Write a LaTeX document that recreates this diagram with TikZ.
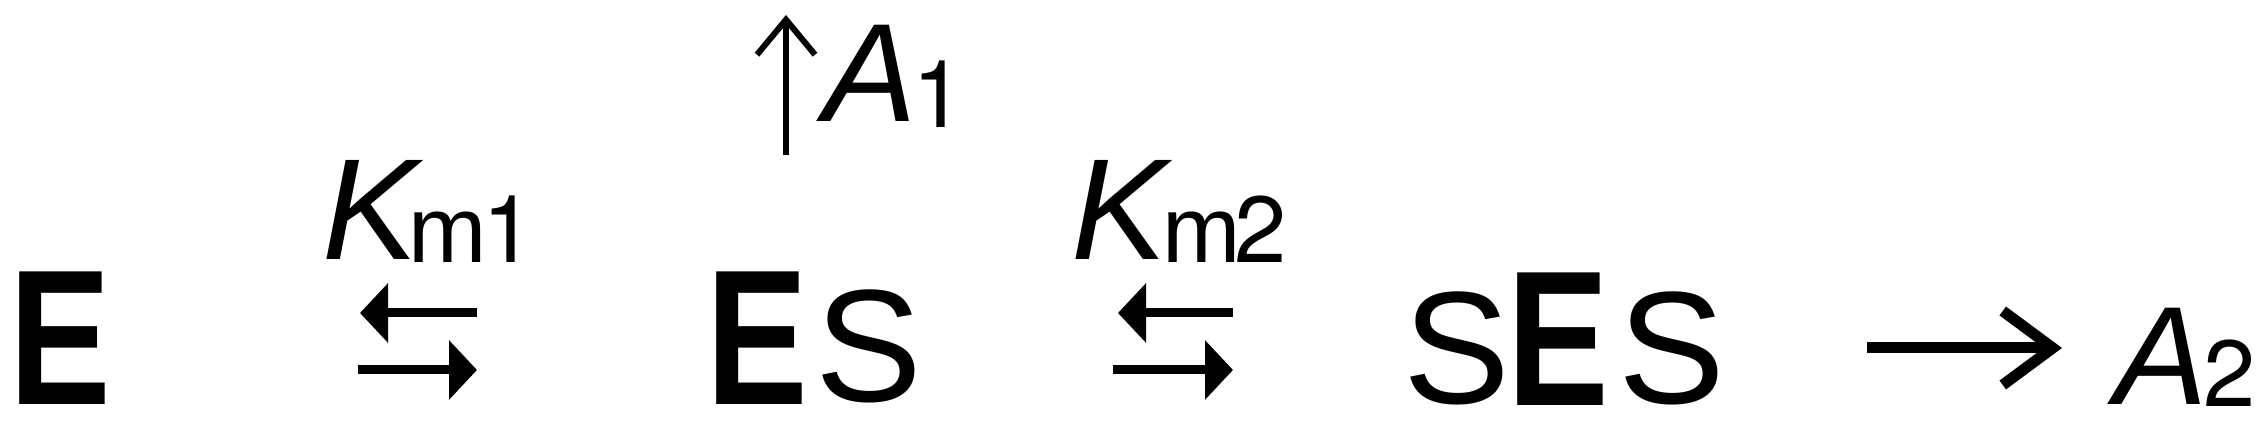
\documentclass[tikz,border=0pt]{standalone}
\usepackage{fontspec}
\usepackage{graphicx}
\setmainfont{Liberation Sans}
\newfontfamily\digfont{TeX Gyre Heros}
\usetikzlibrary{arrows.meta}
\newcommand\subsz{\fontsize{23.5}{24}\selectfont}
\begin{document}
\begin{tikzpicture}[x=0.25pt,y=-0.25pt,
  lbl/.style={anchor=base west,inner sep=0pt,outer sep=0pt},
  bigE/.style={lbl,font=\fontsize{48.2}{50}\selectfont\bfseries},
  sfont/.style={lbl,font=\fontsize{40}{40}\selectfont},
  kfont/.style={lbl,font=\fontsize{36}{36}\selectfont},
  afont/.style={lbl,font=\fontsize{35}{36}\selectfont},
  eqarrow/.style={line width=2.25pt,-{Triangle[length=7pt,width=14.5pt]}},
  uparrow/.style={line width=1.5pt,-{Straight Barb[length=8.75pt,width=14.5pt]}},
  rxarrow/.style={line width=2.75pt,-{Straight Barb[length=12.5pt,width=18.5pt]}}]
\useasboundingbox (0,0) rectangle (2263,423);
% species
\node[bigE] (e) at (9,405) {\scalebox{0.79}[1]{E}};
\node[bigE] (esE) at (706,405) {\scalebox{0.79}[1]{E}};
\node[sfont] (esS) at (815,402) {S};
\node[sfont] (sesS1) at (1403,404) {S};
\node[bigE] (sesE) at (1507,406) {\scalebox{0.79}[1]{E}};
\node[sfont] (sesS2) at (1618,404) {S};
% constants
\node[kfont] (km1) at (322,260) {\textit{K}\kern-3.75pt{\subsz\raisebox{-0.75pt}{m\kern-1pt{\digfont 1}}}};
\node[kfont] (km2) at (1071,260) {\textit{K}\kern-2.5pt{\subsz\raisebox{-0.75pt}{m\kern-1.5pt{\digfont 2}}}};
\node[afont] (a1) at (823,122) {\textit{A}\kern-1pt{\subsz\digfont\raisebox{-1.5pt}{1}}};
\node[afont] (a2) at (2114,405) {\textit{A}\kern-1pt{\subsz\digfont\raisebox{-0.5pt}{2}}};
% arrow end points
\coordinate (eqAa) at (477,313); \coordinate (eqAb) at (360,313);
\coordinate (eqAc) at (358,370); \coordinate (eqAd) at (477,370);
\coordinate (eqBa) at (1233,313); \coordinate (eqBb) at (1118,313);
\coordinate (eqBc) at (1113,370); \coordinate (eqBd) at (1233,370);
\coordinate (up0) at (786,155); \coordinate (up1) at (786,15);
\coordinate (rx0) at (1867,348); \coordinate (rx1) at (2062,348);
\draw[eqarrow] (eqAa) -- (eqAb);
\draw[eqarrow] (eqAc) -- (eqAd);
\draw[eqarrow] (eqBa) -- (eqBb);
\draw[eqarrow] (eqBc) -- (eqBd);
\draw[uparrow] (up0) -- (up1);
\draw[rxarrow] (rx0) -- (rx1);
\end{tikzpicture}
\end{document}
